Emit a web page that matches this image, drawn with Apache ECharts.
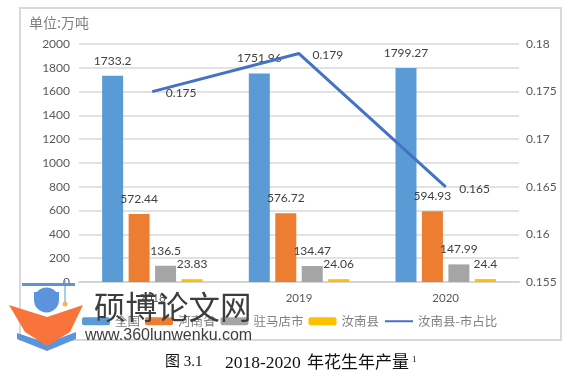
<!DOCTYPE html>
<html>
<head>
<meta charset="utf-8">
<style>html,body{margin:0;padding:0;background:#fff;}#main{width:581px;height:373px;}</style>
<script src="https://cdn.jsdelivr.net/npm/echarts@6/dist/echarts.min.js"></script>
</head>
<body>
<div id="main"></div>
<script>
var years = ['2018', '2019', '2020'];
var national = [1733.2, 1751.96, 1799.27];
var henan = [572.44, 576.72, 594.93];
var zhumadian = [136.5, 134.47, 147.99];
var runan = [23.83, 24.06, 24.4];
var runanShare = [0.175, 0.179, 0.165];

var latin = 'Lato, "Noto Sans CJK SC", sans-serif';
var cjk = '"Noto Sans CJK SC", sans-serif';
var serif = '"Liberation Serif", "Noto Sans CJK SC"';

function barSeries(name, values, color) {
    return {
        name: name,
        type: 'bar',
        data: values,
        barWidth: 21,
        barGap: '26%',
        itemStyle: {color: color},
        label: {
            show: true,
            position: 'top',
            distance: 9,
            color: '#404040',
            fontSize: 12,
            fontFamily: latin
        }
    };
}

var chart = echarts.init(document.getElementById('main'), null, {renderer: 'canvas'});
chart.setOption({
    animation: false,
    backgroundColor: '#fff',
    grid: {left: 79, right: 62, top: 44, bottom: 91},
    legend: {
        left: 77,
        top: 310,
        itemWidth: 28,
        itemHeight: 8,
        itemGap: 5,
        textStyle: {color: '#7f7f7f', fontSize: 12.5, fontFamily: cjk},
        data: ['全国', '河南省', '驻马店市', '汝南县', {name: '汝南县-市占比', itemStyle: {opacity: 0}}]
    },
    xAxis: {
        type: 'category',
        data: years,
        axisTick: {show: false},
        axisLine: {lineStyle: {color: '#d4d4d4', width: 2}},
        axisLabel: {color: '#595959', fontSize: 11.5, fontFamily: latin, margin: 11}
    },
    yAxis: [
        {
            type: 'value',
            min: 0,
            max: 2000,
            interval: 200,
            axisLine: {show: false},
            axisTick: {show: false},
            axisLabel: {
                color: '#595959',
                fontSize: 12,
                fontFamily: latin,
                margin: 9,
                formatter: function (v) { return String(v); }
            },
            splitLine: {lineStyle: {color: '#d9d9d9', width: 1.5}}
        },
        {
            type: 'value',
            min: 0.155,
            max: 0.18,
            interval: 0.005,
            axisLine: {show: false},
            axisTick: {show: false},
            axisLabel: {color: '#595959', fontSize: 12, fontFamily: latin, margin: 7},
            splitLine: {show: false}
        }
    ],
    series: [
        barSeries('全国', national, '#5b9bd5'),
        barSeries('河南省', henan, '#ed7d31'),
        barSeries('驻马店市', zhumadian, '#a5a5a5'),
        barSeries('汝南县', runan, '#ffc000'),
        {
            name: '汝南县-市占比',
            type: 'line',
            yAxisIndex: 1,
            data: runanShare,
            symbol: 'circle',
            symbolSize: 1,
            z: 5,
            itemStyle: {color: '#4472c4'},
            lineStyle: {color: '#4472c4', width: 3},
            label: {
                show: true,
                position: 'right',
                distance: 13,
                offset: [0, 2],
                color: '#404040',
                fontSize: 12,
                fontFamily: latin
            }
        }
    ],
    graphic: [
        {type: 'rect', z: -1, shape: {x: 20, y: 8, width: 541, height: 332}, style: {fill: 'none', stroke: '#d9d9d9', lineWidth: 2}},
        {type: 'text', x: 29, y: 16, style: {text: '单位:万吨', fill: '#7f7f7f', font: '14px ' + cjk}},
        {type: 'text', x: 165, y: 355, style: {text: '图 3.1', fill: '#111', font: '15px ' + serif}},
        {type: 'text', x: 225, y: 355, style: {text: '2018-2020', fill: '#111', font: '17.5px ' + serif}},
        {type: 'text', x: 307, y: 355, style: {text: '年花生年产量', fill: '#111', font: '17px ' + serif}},
        {type: 'text', x: 412, y: 355, style: {text: '1', fill: '#111', font: '9px "Liberation Serif"'}},
        // watermark on top of the chart
        {type: 'rect', z: 20, shape: {x: 22, y: 283, width: 53, height: 3}, style: {fill: '#5b94dd'}},
        {type: 'rect', z: 20, shape: {x: 34, y: 292, width: 25, height: 8}, style: {fill: '#5b94dd'}},
        {type: 'circle', z: 20, shape: {cx: 46.5, cy: 300, r: 12.5}, style: {fill: '#5b94dd'}},
        {type: 'rect', z: 20, shape: {x: 64.5, y: 280, width: 1, height: 22}, style: {fill: '#5b94dd'}},
        {type: 'circle', z: 20, shape: {cx: 65, cy: 304, r: 2.5}, style: {fill: '#f5b45a'}},
        {type: 'polygon', z: 20, shape: {points: [[17, 333], [47, 343], [76, 332], [76, 339], [47, 351], [17, 339]]}, style: {fill: '#5b94dd'}},
        {type: 'polygon', z: 21, shape: {points: [[9, 305], [47, 317], [83, 305], [70, 332], [47, 346], [25, 332]]}, style: {fill: '#f9743a'}},
        {type: 'text', z: 20, x: 94, y: 291, style: {text: '硕博论文网', fill: '#3d3d3d', font: '31.5px ' + cjk}},
        {type: 'text', z: 20, x: 85, y: 328, style: {text: 'www.360lunwenku.com', fill: '#3d3d3d', font: '16px "Liberation Sans"'}}
    ]
});
</script>
</body>
</html>
